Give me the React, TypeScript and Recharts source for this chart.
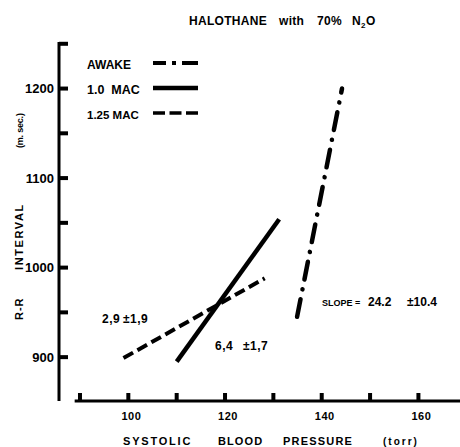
import React from 'react';
import { LineChart, Line, XAxis, YAxis, Legend, ReferenceLine } from 'recharts';

// ---- data ----
const sbpTicks = [90, 100, 110, 120, 130, 140, 150, 160];
const sbpLabelTicks = [100, 120, 140, 160];
const rrTicks = [900, 950, 1000, 1050, 1100, 1150, 1200, 1250];
const rrLabelTicks = [900, 1000, 1100, 1200];

const seriesNames = ['AWAKE', '1.0  MAC', '1.25 MAC'];

const awakeSbp = [134.9, 144.2];
const awakeRr = [945, 1200];

const mac10Sbp = [110, 131.2];
const mac10Rr = [895, 1054];

const mac125Sbp = [99, 128.2];
const mac125Rr = [899, 988];

const toPoints = (xs: number[], ys: number[]) => xs.map((sbp, i) => ({ sbp, rr: ys[i] }));

const awakeData = toPoints(awakeSbp, awakeRr);
const mac10Data = toPoints(mac10Sbp, mac10Rr);
const mac125Data = toPoints(mac125Sbp, mac125Rr);

// ---- styles ----
const FONT = "'Liberation Sans', Arial, Helvetica, sans-serif";
const NARROW = "'Liberation Sans Narrow', 'Liberation Sans', Arial, sans-serif";
const X_DOMAIN: [number, number] = [85.66, 168.6];
const Y_DOMAIN: [number, number] = [851, 1252];
const X_MARGIN = 11;
const Y_MARGIN = 5;

const lineStyles: Record<string, { dash?: string; width: number; legendDash?: string; legendWidth: number; fontSize: number }> = {
  AWAKE: { dash: '18 10 0.1 10', width: 4.5, legendDash: '13 6 4 6 16', legendWidth: 4, fontSize: 12 },
  '1.0  MAC': { width: 4.5, legendWidth: 4.5, fontSize: 12.5 },
  '1.25 MAC': { dash: '11 5', width: 4, legendDash: '12 4.5', legendWidth: 3.5, fontSize: 11.5 },
};

const renderLegend = (props: any) => {
  const payload = [...(props.payload || [])].sort(
    (a: any, b: any) => seriesNames.indexOf(a.value) - seriesNames.indexOf(b.value)
  );
  return (
    <div style={{ fontFamily: FONT, fontWeight: 700, color: '#000' }}>
      {payload.map((entry: any) => {
        const st = lineStyles[entry.value];
        return (
          <div key={entry.value} style={{ height: 25, display: 'flex', alignItems: 'center' }}>
            <span style={{ width: 66, fontSize: st.fontSize, whiteSpace: 'pre', lineHeight: '25px' }}>{entry.value}</span>
            <svg width={46} height={12} style={{ marginTop: -6 }}>
              <line x1={0} y1={6} x2={45} y2={6} stroke="#000" strokeWidth={st.legendWidth} strokeDasharray={st.legendDash} />
            </svg>
          </div>
        );
      })}
    </div>
  );
};

const XTick = (props: any) => {
  const x = Number(props.x);
  const y = Number(props.y);
  const value = props.payload ? props.payload.value : undefined;
  const axisY = y - X_MARGIN;
  const show = sbpLabelTicks.includes(value);
  return (
    <g>
      <rect x={x - 2} y={axisY - 8} width={4} height={8} fill="#000" stroke="none" />
      {show && (
        <text x={x + 3} y={y} dy="0.71em" textAnchor="middle" fill="#000" fontSize={11} fontWeight={700} fontFamily={FONT} letterSpacing={0.5}>
          {value}
        </text>
      )}
    </g>
  );
};

const YTick = (props: any) => {
  const x = Number(props.x);
  const y = Number(props.y);
  const value = props.payload ? props.payload.value : undefined;
  const axisX = x + Y_MARGIN;
  const show = rrLabelTicks.includes(value);
  return (
    <g>
      <rect x={axisX} y={y - 2} width={9} height={4} fill="#000" stroke="none" />
      {show && (
        <text x={x} y={y} dy="0.355em" textAnchor="end" fill="#000" fontSize={13} fontWeight={700} fontFamily={NARROW}>
          {value}
        </text>
      )}
    </g>
  );
};

export default function App() {
  return (
    <div style={{ position: 'absolute', left: 0, top: 0, width: 460, height: 447, background: '#fff' }}>
      <LineChart width={460} height={447} margin={{ top: 42, right: 0, bottom: 0, left: 0 }}>
        <XAxis
          type="number"
          dataKey="sbp"
          domain={X_DOMAIN}
          allowDataOverflow
          ticks={sbpTicks}
          interval={0}
          height={46}
          axisLine={false}
          tickLine={false}
          tickSize={0}
          tickMargin={X_MARGIN}
          tick={(p: any) => <XTick {...p} />}
        />
        <YAxis
          type="number"
          dataKey="rr"
          domain={Y_DOMAIN}
          allowDataOverflow
          ticks={rrTicks}
          interval={0}
          width={59}
          axisLine={{ stroke: '#000', strokeWidth: 3 }}
          tickLine={false}
          tickSize={0}
          tickMargin={Y_MARGIN}
          tick={(p: any) => <YTick {...p} />}
        />
        <ReferenceLine
          segment={[{ x: 88.9, y: Y_DOMAIN[0] }, { x: X_DOMAIN[1], y: Y_DOMAIN[0] }]}
          stroke="#000"
          strokeWidth={3}
          ifOverflow="visible"
        />
        <Legend
          layout="vertical"
          align="center"
          verticalAlign="middle"
          wrapperStyle={{ left: 87, top: 53, width: 120, height: 75 }}
          content={renderLegend}
        />
        <Line
          data={awakeData}
          dataKey="rr"
          name={seriesNames[0]}
          stroke="#000"
          strokeWidth={lineStyles.AWAKE.width}
          strokeDasharray={lineStyles.AWAKE.dash}
          strokeLinecap="round"
          dot={false}
          activeDot={false}
          isAnimationActive={false}
        />
        <Line
          data={mac10Data}
          dataKey="rr"
          name={seriesNames[1]}
          stroke="#000"
          strokeWidth={lineStyles['1.0  MAC'].width}
          dot={false}
          activeDot={false}
          isAnimationActive={false}
        />
        <Line
          data={mac125Data}
          dataKey="rr"
          name={seriesNames[2]}
          stroke="#000"
          strokeWidth={lineStyles['1.25 MAC'].width}
          strokeDasharray={lineStyles['1.25 MAC'].dash}
          dot={false}
          activeDot={false}
          isAnimationActive={false}
        />
      </LineChart>
      <svg
        width={460}
        height={447}
        style={{ position: 'absolute', left: 0, top: 0, pointerEvents: 'none' }}
        fontFamily={FONT}
        fontWeight={700}
        fill="#000"
      >
        {/* title */}
        <text y={25} fontSize={12} letterSpacing={0.3}>
          <tspan x={189}>HALOTHANE</tspan>
          <tspan x={279}>with</tspan>
          <tspan x={317}>70%</tspan>
          <tspan x={352}>N</tspan>
          <tspan x={361} dy={3} fontSize={8}>2</tspan>
          <tspan x={366} dy={-3}>O</tspan>
        </text>
        {/* x axis title */}
        <text y={445} fontSize={11}>
          <tspan x={123} letterSpacing={1.8}>SYSTOLIC</tspan>
          <tspan x={218} letterSpacing={1.1}>BLOOD</tspan>
          <tspan x={283} letterSpacing={1.2}>PRESSURE</tspan>
          <tspan x={383} fontSize={10} letterSpacing={2}>(torr)</tspan>
        </text>
        {/* y axis title */}
        <text transform="rotate(-90)" y={23} fontSize={11}>
          <tspan x={-320} letterSpacing={1}>R-R</tspan>
          <tspan x={-270} letterSpacing={1.6}>INTERVAL</tspan>
          <tspan x={-148} fontSize={9} letterSpacing={-0.2}>(m. sec.)</tspan>
        </text>
        {/* annotations */}
        <text y={323} fontSize={12} letterSpacing={0.5}>
          <tspan x={102}>2,9</tspan>
          <tspan x={123}>±1,9</tspan>
        </text>
        <text y={350} fontSize={12} letterSpacing={0.5}>
          <tspan x={215}>6,4</tspan>
          <tspan x={243}>±1,7</tspan>
        </text>
        <text y={306}>
          <tspan x={322} fontSize={9}>SLOPE =</tspan>
          <tspan x={368} fontSize={12}>24.2</tspan>
          <tspan x={407} fontSize={12}>±10.4</tspan>
        </text>
      </svg>
    </div>
  );
}
